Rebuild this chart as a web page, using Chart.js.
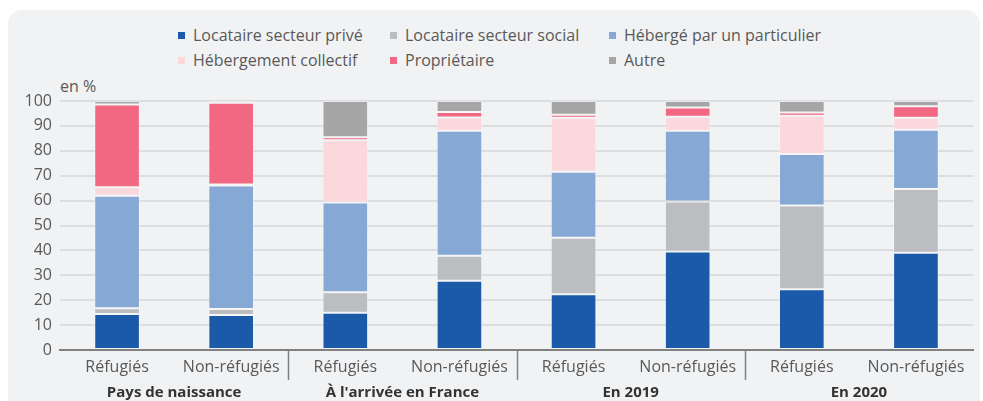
<!DOCTYPE html>
<html lang="fr">
<head>
<meta charset="utf-8">
<script src="https://cdn.jsdelivr.net/npm/chart.js@4/dist/chart.umd.min.js"></script>
<style>
  html, body { margin:0; padding:0; background:#ffffff; width:983px; height:401px; overflow:hidden; font-family:"Open Sans", sans-serif; }
  #card { position:absolute; left:8px; top:10px; width:972px; height:420px; background:#f1f2f4; border-radius:14px; }
  #wrap { position:absolute; left:0; top:0; width:983px; height:401px; }
  .lg { position:absolute; font-size:16px; line-height:20px; color:#595959; white-space:nowrap; }
  .sq { position:absolute; width:7px; height:7px; }
  #unit { position:absolute; left:60px; top:76px; font-size:16px; line-height:20px; color:#595959; }
</style>
</head>
<body>
<div id="card"></div>
<div id="legend"></div>
<div id="unit">en %</div>
<div id="wrap"><canvas id="c" width="983" height="401"></canvas></div>
<script>
// ---- Data ----
const categories = ["Réfugiés","Non-réfugiés","Réfugiés","Non-réfugiés","Réfugiés","Non-réfugiés","Réfugiés","Non-réfugiés"];
const groups = ["Pays de naissance","À l'arrivée en France","En 2019","En 2020"];
const seriesNames = ["Locataire secteur privé","Locataire secteur social","Hébergé par un particulier","Hébergement collectif","Propriétaire","Autre"];
const locatairePrive   = [14.5, 14.1, 15.0, 27.8, 22.4, 39.6, 24.4, 39.1];
const locataireSocial  = [ 2.3,  2.4,  8.2, 10.1, 22.7, 20.0, 33.6, 25.6];
const hebergeParticulier = [45.1, 49.6, 36.0, 50.2, 26.5, 28.5, 20.7, 23.8];
const hebergementCollectif = [3.5, 0.4, 25.0, 5.3, 21.7, 5.6, 15.4, 4.8];
const proprietaire     = [33.2, 32.8,  1.2,  2.2,  1.2,  3.7,  1.3,  4.6];
const autre            = [ 1.4,  0.7, 14.6,  4.4,  5.5,  2.6,  4.6,  2.1];
const yTicks = [0,10,20,30,40,50,60,70,80,90,100];

const colors = ["#1a5aa8","#bcbdc0","#86a8d4","#fbd8dc","#f26782","#a6a6a6"];
const seriesData = [locatairePrive, locataireSocial, hebergeParticulier, hebergementCollectif, proprietaire, autre];

// ---- HTML legend (grid layout) ----
const legendPos = [[178,35],[390,35],[609,35],[178,60],[390,60],[609,60]];
const legendEl = document.getElementById('legend');
seriesNames.forEach((n,i)=>{
  const [x,y] = legendPos[i];
  const sq = document.createElement('div');
  sq.className='sq'; sq.style.left=x+'px'; sq.style.top=(y-3)+'px'; sq.style.background=colors[i];
  const t = document.createElement('div');
  t.className='lg'; t.style.left=(x+15)+'px'; t.style.top=(y-10)+'px'; t.textContent=n;
  legendEl.appendChild(sq); legendEl.appendChild(t);
});

// ---- Group labels & separators plugin ----
const groupPlugin = {
  id:'groupPlugin',
  afterDraw(chart){
    const ctx = chart.ctx, xs = chart.scales.x, bottom = chart.chartArea.bottom;
    ctx.save();
    ctx.font = 'bold 15px "Open Sans"';
    ctx.fillStyle = '#333333';
    ctx.textAlign = 'center'; ctx.textBaseline = 'middle';
    groups.forEach((g,i)=>{
      const x = (xs.getPixelForValue(2*i) + xs.getPixelForValue(2*i+1))/2;
      ctx.fillText(g, x, 393);
    });
    ctx.strokeStyle = '#808080'; ctx.lineWidth = 1.5;
    for (let i=1;i<groups.length;i++){
      const x = Math.round((xs.getPixelForValue(2*i-1) + xs.getPixelForValue(2*i))/2) + 0.5;
      ctx.beginPath(); ctx.moveTo(x, bottom); ctx.lineTo(x, 380); ctx.stroke();
    }
    ctx.restore();
  }
};

new Chart(document.getElementById('c'), {
  type:'bar',
  data:{
    labels: categories,
    datasets: seriesNames.map((n,i)=>({
      label:n, data:seriesData[i], backgroundColor:colors[i],
      borderColor:'rgba(255,255,255,0.35)', borderWidth:1, borderSkipped:false,
      categoryPercentage:0.8, barPercentage:0.5
    }))
  },
  options:{
    responsive:false, animation:false,
    layout:{ padding:{ top:101, right:10, left:0, bottom:0 } },
    plugins:{ legend:{ display:false }, tooltip:{ enabled:false } },
    scales:{
      x:{
        stacked:true,
        afterFit(s){ s.height = 51; },
        grid:{ display:false, drawTicks:false },
        border:{ display:true, color:'#808080', width:2 },
        ticks:{ font:{ family:'"Open Sans"', size:16 }, color:'#595959', padding:8, maxRotation:0, autoSkip:false }
      },
      y:{
        stacked:true, min:0, max:100,
        afterFit(s){ s.width = 60; },
        afterBuildTicks(s){ s.ticks = yTicks.map(v=>({value:v})); },
        grid:{ color:'#dcdde0', lineWidth:2, drawTicks:false },
        border:{ display:false },
        ticks:{ font:{ family:'"Open Sans"', size:16 }, color:'#595959', padding:8 }
      }
    }
  },
  plugins:[groupPlugin]
});
</script>
</body>
</html>
